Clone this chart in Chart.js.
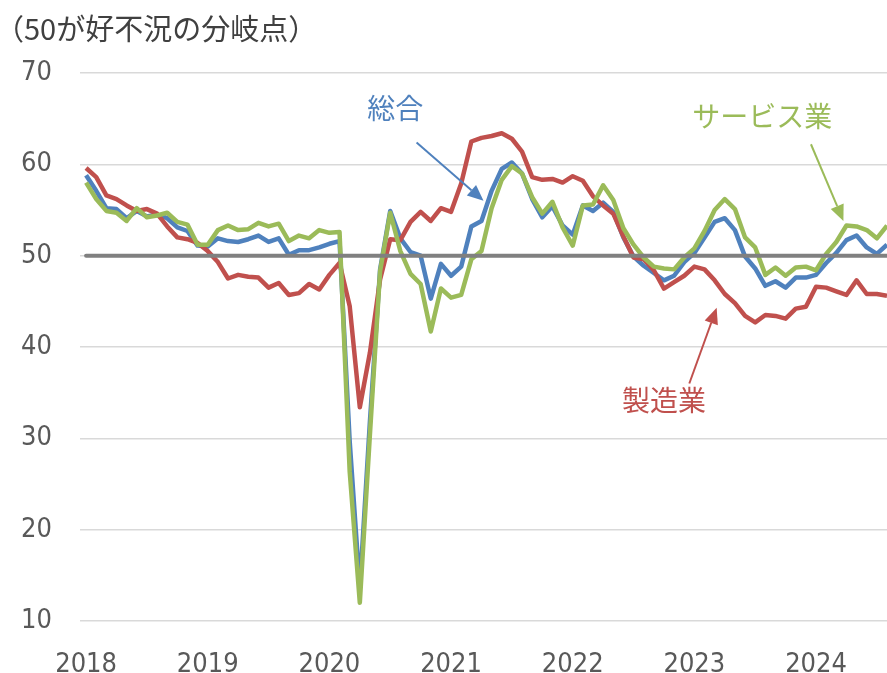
<!DOCTYPE html>
<html><head><meta charset="utf-8">
<script src="https://cdn.jsdelivr.net/npm/chart.js@4.4.1/dist/chart.umd.min.js"></script>
<style>html,body{margin:0;padding:0;background:#fff;overflow:hidden}</style>
</head><body>
<canvas id="c" width="887" height="673"></canvas>
<script>
// ---- data (monthly, Jan 2018 – Aug 2024) ----
const years = ['2018','2019','2020','2021','2022','2023','2024'];
const monthsPerYear = 12;
const composite = [
 58.8,57.1,55.2,55.1,54.1,54.9,54.3,54.5,54.1,53.1,52.7,51.1,
 51.0,51.9,51.6,51.5,51.8,52.2,51.5,51.9,50.1,50.6,50.6,50.9,
 51.3,51.6,29.7,13.6,31.9,48.5,54.9,51.9,50.4,50.0,45.3,49.1,
 47.8,48.8,53.2,53.8,57.1,59.5,60.2,59.0,56.2,54.2,55.4,53.3,
 52.3,55.5,54.9,55.8,54.8,52.0,49.9,48.9,48.1,47.3,47.8,49.3,
 50.3,52.0,53.7,54.1,52.8,49.9,48.6,46.7,47.2,46.5,47.6,47.6,
 47.9,49.2,50.3,51.7,52.2,50.9,50.2,51.2
];
const manufacturing = [
 59.6,58.6,56.6,56.2,55.5,54.9,55.1,54.6,53.2,52.0,51.8,51.4,
 50.5,49.3,47.5,47.9,47.7,47.6,46.5,47.0,45.7,45.9,46.9,46.3,
 47.9,49.2,44.5,33.4,39.4,47.4,51.8,51.7,53.7,54.8,53.8,55.2,
 54.8,57.9,62.5,62.9,63.1,63.4,62.8,61.4,58.6,58.3,58.4,58.0,
 58.7,58.2,56.5,55.5,54.6,52.1,49.8,49.6,48.4,46.4,47.1,47.8,
 48.8,48.5,47.3,45.8,44.8,43.4,42.7,43.5,43.4,43.1,44.2,44.4,
 46.6,46.5,46.1,45.7,47.3,45.8,45.8,45.6
];
const services = [
 58.0,56.2,54.9,54.7,53.8,55.2,54.2,54.4,54.7,53.7,53.4,51.2,
 51.2,52.8,53.3,52.8,52.9,53.6,53.2,53.5,51.6,52.2,51.9,52.8,
 52.5,52.6,26.4,12.0,30.5,48.3,54.7,50.5,48.0,46.9,41.7,46.4,
 45.4,45.7,49.6,50.5,55.2,58.3,59.8,59.0,56.4,54.6,55.9,53.1,
 51.1,55.5,55.6,57.7,56.1,53.0,51.2,49.8,48.8,48.6,48.5,49.8,
 50.8,52.7,55.0,56.2,55.1,52.0,50.9,47.9,48.7,47.8,48.7,48.8,
 48.4,50.2,51.5,53.3,53.2,52.8,51.9,53.3
];
const threshold = 50;
const yTicks = [10,20,30,40,50,60,70];
const titleText = '（50が好不況の分岐点）';
const seriesNames = ['総合','製造業','サービス業'];

const toXY = arr => arr.map((v,i)=>({x:i,y:v}));
const n = composite.length;

const COL = {blue:'#4f81bd', red:'#c0504d', green:'#9bbb59', gray:'#808080'};

// annotations in data coordinates (month index, value)
const notes = [
  {text:seriesNames[0], color:COL.blue,  tx:30.5, ty:66.1, from:[32.6,62.4], to:[39.2,56.0]},
  {text:seriesNames[2], color:COL.green, tx:66.7, ty:65.2, from:[71.5,62.2], to:[74.7,53.8]},
  {text:seriesNames[1], color:COL.red,   tx:57.0, ty:34.2, from:[59.5,36.0], to:[62.2,44.3]}
];

const overlay = {
  id:'overlay',
  afterDraw(chart){
    const ctx = chart.ctx, xs = chart.scales.x, ys = chart.scales.y;
    ctx.save();
    ctx.fillStyle = '#404040';
    ctx.font = '29px "Noto Sans CJK JP"';
    ctx.textBaseline = 'middle';
    ctx.textAlign = 'left';
    ctx.fillText(titleText, -5, 29);
    notes.forEach(nt=>{
      ctx.fillStyle = nt.color;
      ctx.strokeStyle = nt.color;
      ctx.font = '28px "Noto Sans CJK JP"';
      ctx.textAlign = 'center';
      ctx.fillText(nt.text, xs.getPixelForValue(nt.tx), ys.getPixelForValue(nt.ty));
      const x1 = xs.getPixelForValue(nt.from[0]), y1 = ys.getPixelForValue(nt.from[1]);
      const x2 = xs.getPixelForValue(nt.to[0]), y2 = ys.getPixelForValue(nt.to[1]);
      const ang = Math.atan2(y2-y1, x2-x1);
      const L = 16, W = 7;
      const bx = x2 - L*Math.cos(ang), by = y2 - L*Math.sin(ang);
      ctx.lineWidth = 2;
      ctx.beginPath(); ctx.moveTo(x1,y1); ctx.lineTo(bx,by); ctx.stroke();
      ctx.beginPath();
      ctx.moveTo(x2,y2);
      ctx.lineTo(bx - W*Math.sin(ang), by + W*Math.cos(ang));
      ctx.lineTo(bx + W*Math.sin(ang), by - W*Math.cos(ang));
      ctx.closePath(); ctx.fill();
    });
    ctx.restore();
  }
};

const tickFont = {family:'"Liberation Sans Narrow","DejaVu Sans Condensed","Liberation Sans",sans-serif', size:27};

new Chart(document.getElementById('c'), {
  type:'line',
  data:{
    datasets:[
      {label:'50', data:[{x:0,y:threshold},{x:n-1,y:threshold}], borderColor:COL.gray, borderWidth:4, borderCapStyle:'round', pointRadius:0},
      {label:seriesNames[2], data:toXY(services), borderColor:COL.green, borderWidth:4.5},
      {label:seriesNames[1], data:toXY(manufacturing), borderColor:COL.red, borderWidth:4.5},
      {label:seriesNames[0], data:toXY(composite), borderColor:COL.blue, borderWidth:4.5}
    ]
  },
  options:{
    responsive:false, animation:false, devicePixelRatio:1,
    layout:{padding:{top:73, right:0, bottom:0, left:0}},
    elements:{line:{tension:0, borderJoinStyle:'round', fill:false}, point:{radius:0, hoverRadius:0}},
    plugins:{legend:{display:false}, tooltip:{enabled:false}, title:{display:false}},
    scales:{
      x:{type:'linear', min:-0.6, max:n-1,
         grid:{display:false}, border:{display:false},
         afterBuildTicks:s=>{ s.ticks = years.map((y,i)=>({value:i*monthsPerYear})); },
         afterFit:s=>{ s.height = 52; },
         ticks:{autoSkip:false, maxRotation:0, color:'#595959', font:tickFont, padding:20,
                callback:v=>years[Math.round(v/monthsPerYear)]}
      },
      y:{min:10, max:70,
         afterBuildTicks:s=>{ s.ticks = yTicks.map(v=>({value:v})); },
         afterFit:s=>{ s.width = 80; },
         grid:{color:'#d9d9d9', lineWidth:1.5, drawTicks:false}, border:{display:false},
         ticks:{color:'#595959', font:tickFont, padding:28}
      }
    }
  },
  plugins:[overlay]
});
</script>
</body></html>
